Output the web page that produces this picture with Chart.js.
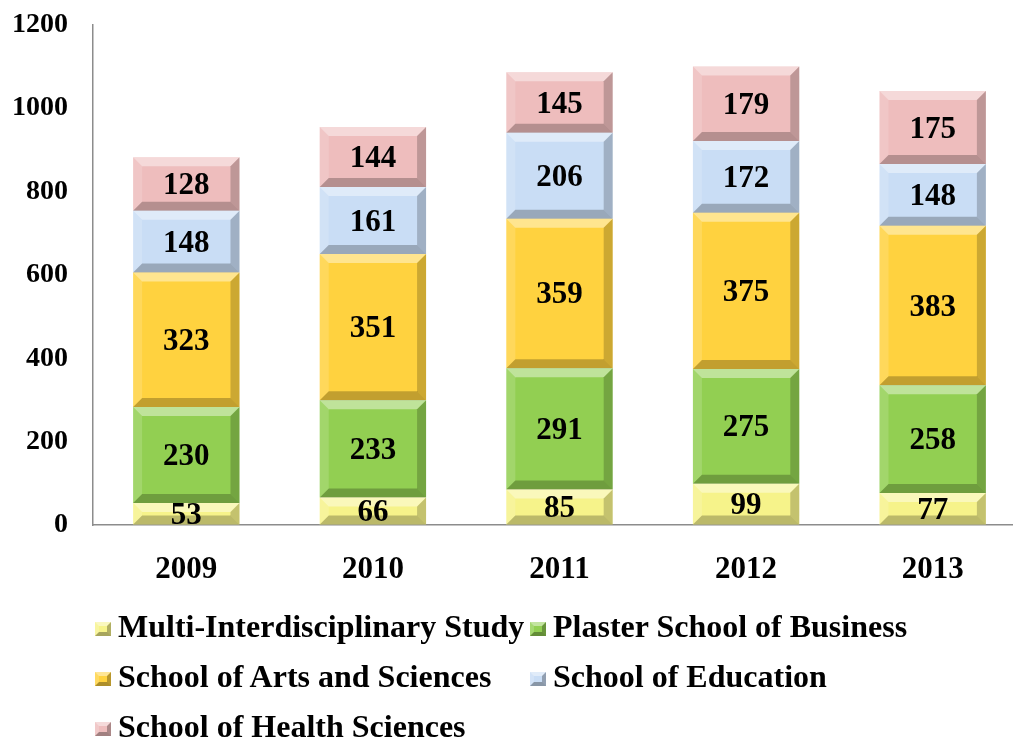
<!DOCTYPE html>
<html>
<head>
<meta charset="utf-8">
<script src="https://cdn.jsdelivr.net/npm/chart.js@4.4.0/dist/chart.umd.min.js"></script>
<style>
  html, body { margin: 0; padding: 0; background: #fff; overflow: hidden; }
  #wrap { position: relative; width: 1030px; height: 742px; }
  #box { position: absolute; left: 0; top: -17px; width: 1030px; height: 617px; }
  #legend { position: absolute; left: 0; top: 0; width: 1013px; height: 742px; pointer-events: none; }
  .item { position: absolute; font: bold 32px "Liberation Serif", "Times New Roman", serif; line-height: 50px; white-space: nowrap; color: #000; }
  .mark { display: inline-block; width: 8px; height: 6px; border-style: solid; border-width: 4px 4px 4px 4px; margin-right: 7px; vertical-align: 1px; }
</style>
</head>
<body>
<div id="wrap">
  <div id="box"><canvas id="chart"></canvas></div>
  <div id="legend"></div>
</div>
<script>
const years = ['2009', '2010', '2011', '2012', '2013'];
const multiStudy = [53, 66, 85, 99, 77];
const plasterBusiness = [230, 233, 291, 275, 258];
const artsSciences = [323, 351, 359, 375, 383];
const education = [148, 161, 206, 172, 148];
const healthSciences = [128, 144, 145, 179, 175];
const yTicks = [0, 200, 400, 600, 800, 1000, 1200];

const serif = '"Liberation Serif", "Times New Roman", serif';

function series(label, data, color) {
  return {
    label: label,
    data: data,
    backgroundColor: color,
    borderWidth: 0,
    barPercentage: 0.57,
    categoryPercentage: 1
  };
}

// fake bevel + value labels, like the office chart
const bevelLabels = {
  id: 'bevelLabels',
  afterDatasetsDraw(chart) {
    const ctx = chart.ctx;
    const face = (pts, fill) => {
      ctx.beginPath();
      ctx.moveTo(pts[0][0], pts[0][1]);
      pts.slice(1).forEach(p => ctx.lineTo(p[0], p[1]));
      ctx.closePath();
      ctx.fillStyle = fill;
      ctx.fill();
    };
    ctx.save();
    chart.data.datasets.forEach((ds, i) => {
      chart.getDatasetMeta(i).data.forEach((bar, j) => {
        const p = bar.getProps(['x', 'y', 'base', 'width'], true);
        const l = p.x - p.width / 2, r = p.x + p.width / 2;
        const t = Math.min(p.y, p.base), b = Math.max(p.y, p.base);
        const d = Math.min(9, (b - t) / 2, p.width / 2);
        face([[l, t], [r, t], [r - d, t + d], [l + d, t + d]], 'rgba(255,255,255,0.42)');
        face([[l, t], [l + d, t + d], [l + d, b - d], [l, b]], 'rgba(255,255,255,0.15)');
        face([[r, t], [r, b], [r - d, b - d], [r - d, t + d]], 'rgba(0,0,0,0.2)');
        face([[l, b], [l + d, b - d], [r - d, b - d], [r, b]], 'rgba(0,0,0,0.24)');
        ctx.fillStyle = '#000';
        ctx.font = 'bold 31px ' + serif;
        ctx.textAlign = 'center';
        ctx.textBaseline = 'middle';
        ctx.fillText(String(ds.data[j]), p.x, (t + b) / 2 + 2);
      });
    });
    ctx.restore();
  }
};

const chart = new Chart(document.getElementById('chart'), {
  type: 'bar',
  data: {
    labels: years,
    datasets: [
      series('Multi-Interdisciplinary Study', multiStudy, '#F6F38A'),
      series('Plaster School of Business', plasterBusiness, '#92CF52'),
      series('School of Arts and Sciences', artsSciences, '#FFD23F'),
      series('School of Education', education, '#C9DDF5'),
      series('School of Health Sciences', healthSciences, '#EEBDBD')
    ]
  },
  options: {
    responsive: true,
    maintainAspectRatio: false,
    animation: false,
    layout: { padding: { left: 0, right: 4, top: 8, bottom: 0 } },
    plugins: { legend: { display: false }, tooltip: { enabled: false } },
    scales: {
      x: {
        stacked: true,
        grid: { drawOnChartArea: false, drawTicks: false },
        border: { color: '#8c8c8c', width: 1.5 },
        ticks: { color: '#000', font: { family: serif, size: 31, weight: 'bold' }, padding: 26 },
        afterFit: s => { s.height = 75; }
      },
      y: {
        stacked: true,
        min: 0,
        max: 1200,
        afterBuildTicks: s => { s.ticks = yTicks.map(v => ({ value: v })); },
        grid: { drawOnChartArea: false, drawTicks: false },
        border: { color: '#8c8c8c', width: 1.5 },
        ticks: {
          color: '#000',
          font: { family: serif, size: 28, weight: 'bold' },
          padding: 25,
          callback: v => String(v)
        },
        afterFit: s => { s.width = 93; }
      }
    }
  },
  plugins: [bevelLabels]
});

// legend laid out in two columns like the original
const legendBox = document.getElementById('legend');
const cols = [95, 530];
const rowTop = 601, rowGap = 50;
chart.data.datasets.forEach((ds, i) => {
  const item = document.createElement('div');
  item.className = 'item';
  item.style.left = cols[i % 2] + 'px';
  item.style.top = (rowTop + Math.floor(i / 2) * rowGap) + 'px';
  const mark = document.createElement('span');
  mark.className = 'mark';
  mark.style.backgroundColor = ds.backgroundColor;
  mark.style.borderColor = 'rgba(255,255,255,0.45) rgba(0,0,0,0.28) rgba(0,0,0,0.32) rgba(255,255,255,0.18)';
  item.appendChild(mark);
  item.appendChild(document.createTextNode(ds.label));
  legendBox.appendChild(item);
});
</script>
</body>
</html>
